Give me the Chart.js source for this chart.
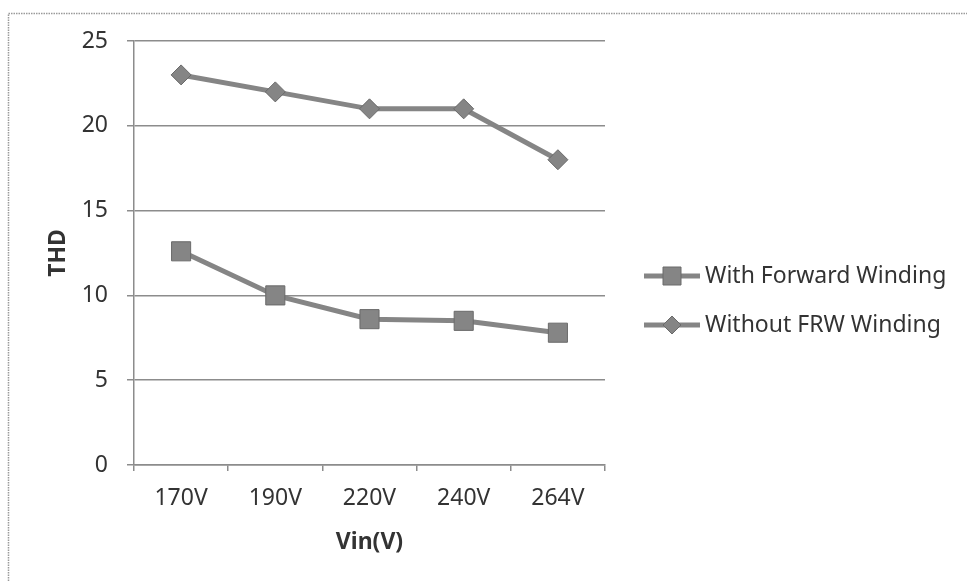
<!DOCTYPE html>
<html>
<head>
<meta charset="utf-8">
<script src="https://cdn.jsdelivr.net/npm/chart.js@4/dist/chart.umd.min.js"></script>
<style>
  html, body { margin: 0; padding: 0; background: #ffffff; }
  #wrap { width: 967px; height: 581px; position: relative; }
</style>
</head>
<body>
<div id="wrap"><canvas id="chart" width="967" height="581"></canvas></div>
<script>
// Input voltage categories
const categories = ['170V', '190V', '220V', '240V', '264V'];
// THD (%) for each configuration
const withForward = [12.6, 10, 8.6, 8.5, 7.8];
const withoutFRW = [23, 22, 21, 21, 18];
// Y axis ticks
const yTicks = [0, 5, 10, 15, 20, 25];
const seriesNames = ['With Forward Winding', 'Without FRW Winding'];

const TEXT = '#333333';
const LINE = '#858585';
const EDGE = '#6a6a6a';
const GRID = '#8c8c8c';
const FONT = "'Noto Sans', 'Open Sans', 'Liberation Sans', sans-serif";

// Frame lines and the legend on the right
const decor = {
  id: 'decor',
  beforeDraw(chart) {
    const ctx = chart.ctx;
    ctx.save();
    ctx.fillStyle = '#ffffff';
    ctx.fillRect(0, 0, chart.width, chart.height);
    ctx.strokeStyle = '#9a9a9a';
    ctx.lineWidth = 1.5;
    ctx.setLineDash([1.5, 1]);
    ctx.beginPath();
    ctx.moveTo(8.5, chart.height);
    ctx.lineTo(8.5, 13.5);
    ctx.lineTo(chart.width, 13.5);
    ctx.stroke();
    ctx.restore();
  },
  afterDraw(chart) {
    const ctx = chart.ctx;
    const rows = [276, 325];
    ctx.save();
    chart.data.datasets.forEach((ds, i) => {
      const y = rows[i];
      ctx.strokeStyle = ds.borderColor;
      ctx.lineWidth = ds.borderWidth;
      ctx.beginPath();
      ctx.moveTo(644, y);
      ctx.lineTo(700, y);
      ctx.stroke();
      ctx.fillStyle = ds.pointBackgroundColor;
      ctx.strokeStyle = ds.pointBorderColor;
      ctx.lineWidth = 1;
      ctx.beginPath();
      if (ds.pointStyle === 'rect') {
        ctx.rect(663, y - 9, 18, 18);
      } else {
        ctx.moveTo(672, y - 9); ctx.lineTo(681, y); ctx.lineTo(672, y + 9); ctx.lineTo(663, y); ctx.closePath();
      }
      ctx.fill();
      ctx.stroke();
      ctx.fillStyle = TEXT;
      ctx.font = '23px ' + FONT;
      ctx.textBaseline = 'middle';
      ctx.textAlign = 'left';
      ctx.fillText(ds.label, 705, y);
    });
    ctx.restore();
  }
};

new Chart(document.getElementById('chart'), {
  type: 'line',
  data: {
    labels: categories,
    datasets: [
      {
        label: seriesNames[0],
        data: withForward,
        borderColor: LINE,
        borderWidth: 5,
        pointStyle: 'rect',
        pointRadius: 13.5,
        pointBackgroundColor: LINE,
        pointBorderColor: EDGE,
        pointBorderWidth: 1,
        tension: 0
      },
      {
        label: seriesNames[1],
        data: withoutFRW,
        borderColor: LINE,
        borderWidth: 5,
        pointStyle: 'rectRot',
        pointRadius: 10,
        pointBackgroundColor: LINE,
        pointBorderColor: EDGE,
        pointBorderWidth: 1,
        tension: 0
      }
    ]
  },
  options: {
    responsive: false,
    animation: false,
    devicePixelRatio: 1,
    layout: { padding: { left: 0, right: 362, top: 41, bottom: 0 } },
    plugins: {
      legend: { display: false },
      tooltip: { enabled: false }
    },
    scales: {
      x: {
        offset: true,
        grid: {
          offset: true,
          drawOnChartArea: false,
          drawTicks: true,
          tickLength: 6,
          color: GRID,
          lineWidth: 1.5
        },
        border: { color: GRID, width: 1.5 },
        ticks: {
          color: TEXT,
          font: { family: FONT, size: 23 },
          padding: 14,
          maxRotation: 0
        },
        title: {
          display: true,
          text: 'Vin(V)',
          color: TEXT,
          font: { family: FONT, size: 23, weight: 'bold' },
          padding: { top: 0, bottom: 25 }
        },
        afterFit(scale) { scale.height = 116; }
      },
      y: {
        min: 0,
        max: 25,
        afterBuildTicks(scale) { scale.ticks = yTicks.map(v => ({ value: v })); },
        grid: {
          drawTicks: true,
          tickLength: 7,
          color: GRID,
          lineWidth: 1.5
        },
        border: { color: GRID, width: 1.5 },
        ticks: {
          color: TEXT,
          font: { family: FONT, size: 23 },
          padding: 19
        },
        title: {
          display: true,
          text: 'THD',
          color: TEXT,
          font: { family: FONT, size: 23, weight: 'bold' },
          padding: { top: 45, bottom: 0 }
        },
        afterFit(scale) { scale.width = 134; }
      }
    }
  },
  plugins: [decor]
});
</script>
</body>
</html>
